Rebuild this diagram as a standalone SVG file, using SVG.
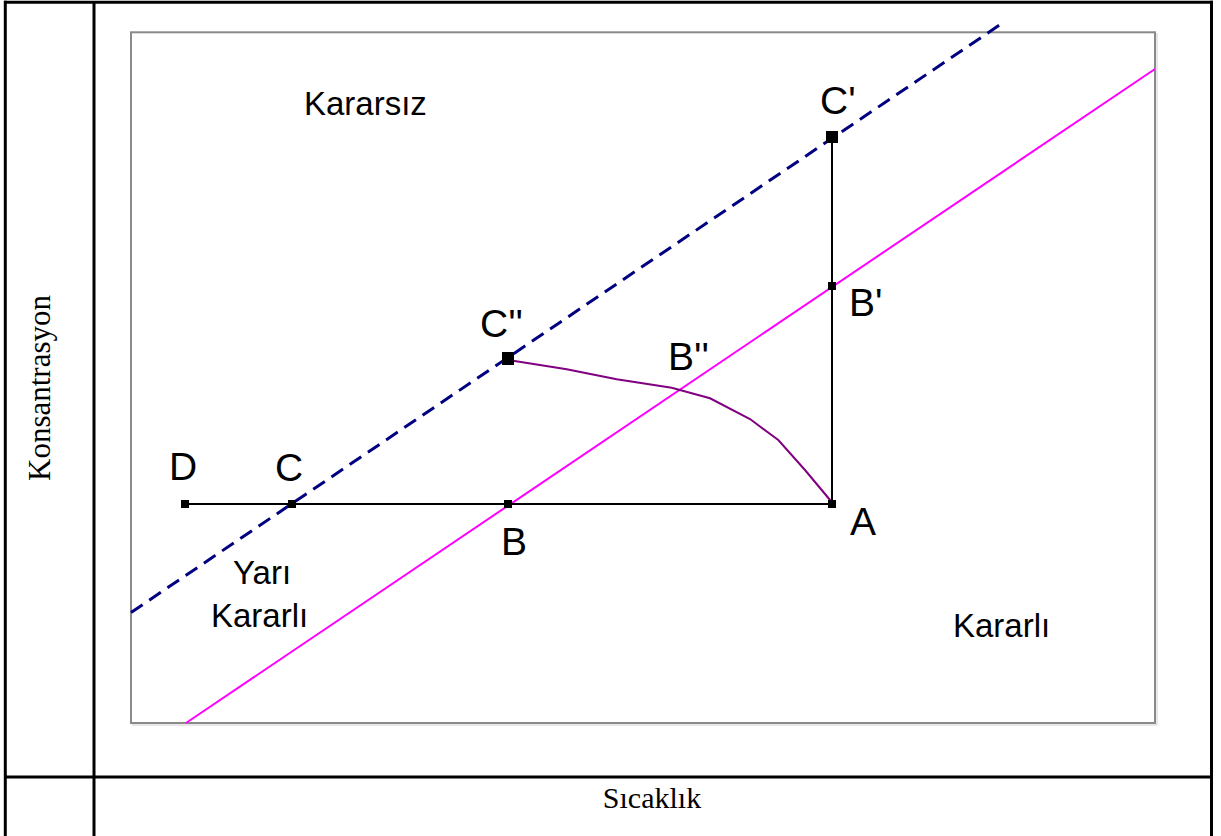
<svg xmlns="http://www.w3.org/2000/svg" width="1221" height="836" viewBox="0 0 1221 836">
<style>
.tbl{stroke:#000;stroke-width:3;fill:none}
.frame{fill:none;stroke:#8a8a8a;stroke-width:2}
.shadow{fill:none;stroke:#d0d0d0;stroke-width:1}
.lbl{font-family:"Liberation Sans",Arial,sans-serif;fill:#000}
.big{font-size:39px}
.word{font-size:33px}
.axis{font-family:"Liberation Serif","Times New Roman",serif;font-size:30px;fill:#000}
.path{stroke:#000;stroke-width:2;fill:none}
.mk{fill:#000}
</style>
<rect width="1221" height="836" fill="#fff"/>
<g id="table">
<line class="tbl" x1="5.3" y1="0.8" x2="5.3" y2="836"/>
<line class="tbl" x1="4" y1="2.2" x2="1213" y2="2.2"/>
<line class="tbl" x1="1211.5" y1="0.8" x2="1211.5" y2="836"/>
<line class="tbl" x1="94" y1="2" x2="94" y2="836"/>
<line class="tbl" x1="4" y1="777" x2="1213" y2="777"/>
</g>
<g id="axis-labels">
<text class="axis" style="font-size:31px" transform="translate(50,388) rotate(-90)" text-anchor="middle">Konsantrasyon</text>
<text class="axis" x="652" y="808" text-anchor="middle">Sıcaklık</text>
</g>
<g id="frame">
<polyline class="shadow" points="1157,33 1157,725 132,725"/>
<rect class="frame" x="131" y="32.3" width="1024" height="690.7"/>
</g>
<g id="connectors">
<line id="magenta-line" x1="186" y1="723" x2="1155" y2="69" stroke="#ff00ff" stroke-width="2"/>
<line id="navy-line" x1="131" y1="612.5" x2="1001" y2="24" stroke="#000080" stroke-width="3" stroke-dasharray="14 8"/>
<polyline id="path-DA" class="path" points="185,504 832,504 832,137"/>
<polyline id="curve" points="513,360.7 566.7,369.3 616.7,379.3 671.7,387.7 710,398.3 750,419 778.3,440 805,470 831.7,502" fill="none" stroke="#800080" stroke-width="2"/>
</g>
<g id="node-D"><rect class="mk" x="181" y="500" width="8" height="8"/><text class="lbl big" x="169" y="480">D</text></g>
<g id="node-C"><rect class="mk" x="288" y="500" width="8" height="8"/><text class="lbl big" x="275" y="481">C</text></g>
<g id="node-B"><rect class="mk" x="504" y="500" width="8" height="8"/><text class="lbl big" x="501" y="555">B</text></g>
<g id="node-A"><rect class="mk" x="828" y="500" width="8" height="8"/><text class="lbl big" x="850" y="535">A</text></g>
<g id="node-Bp"><rect class="mk" x="828" y="282" width="8" height="8"/><text class="lbl big" x="849" y="316">B'</text></g>
<g id="node-Cp"><rect class="mk" x="826" y="131" width="12" height="12"/><text class="lbl big" x="820" y="114">C'</text></g>
<g id="node-Cpp"><rect class="mk" x="502" y="352" width="12" height="13"/><text class="lbl big" x="480" y="337">C''</text></g>
<g id="node-Bpp"><text class="lbl big" x="668" y="370">B''</text></g>
<g id="region-labels">
<text class="lbl word" x="304" y="115">Kararsız</text>
<text class="lbl word" x="233" y="584">Yarı</text>
<text class="lbl word" x="211" y="627">Kararlı</text>
<text class="lbl word" x="953" y="637">Kararlı</text>
</g>
</svg>
